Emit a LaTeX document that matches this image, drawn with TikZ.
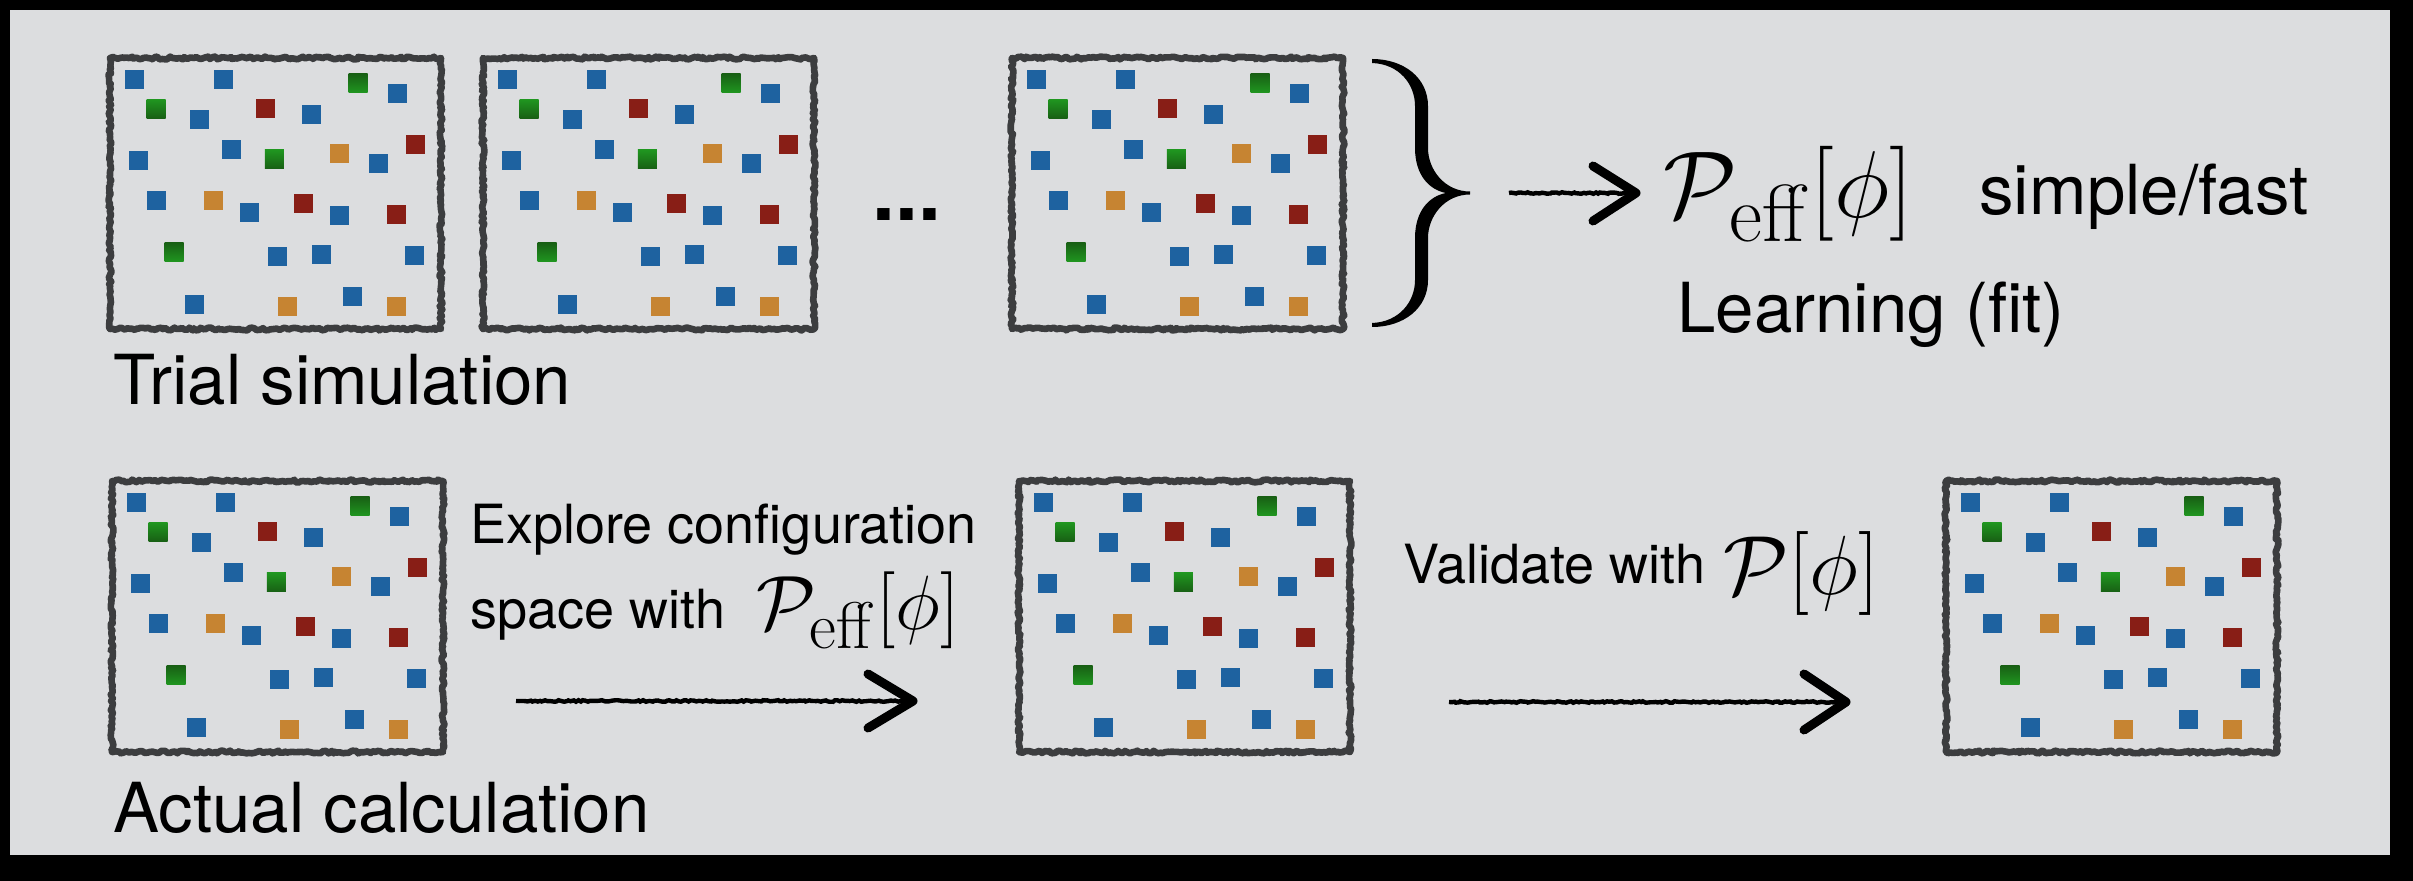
\RequirePackage{fix-cm}
\documentclass[tikz,border=0pt]{standalone}
\usepackage[no-math]{fontspec}
\setmainfont{TeX Gyre Heros}
\usetikzlibrary{decorations.pathmorphing}

% large subscripts for the formula labels
\DeclareMathSizes{47.5}{47.5}{40.5}{30}
\DeclareMathSizes{38.5}{38.5}{33}{25}
\DeclareMathSizes{42}{42}{36}{27}
\newcommand{\effsub}[1]{\raisebox{-#1}{$\scriptstyle\mathrm{eff}$}}

\definecolor{panelgray}{RGB}{220,221,223}
\definecolor{chalk}{RGB}{60,61,63}
\definecolor{cblue}{RGB}{30,98,160}
\definecolor{cred}{RGB}{136,30,22}
\definecolor{corange}{RGB}{198,132,50}
\definecolor{cgreendark}{RGB}{24,96,20}
\definecolor{cgreenlight}{RGB}{32,150,32}

\tikzset{
  framebox/.style={draw=chalk, line width=3.3pt, minimum width=165.5pt,
    minimum height=135.5pt, inner sep=0pt, line join=round, decorate,
    decoration={random steps, segment length=1.2pt, amplitude=0.7pt},
    preaction={draw=chalk, line width=2.6pt, decorate,
      decoration={random steps, segment length=2pt, amplitude=1pt}}},
  bigtext/.style={anchor=base west, inner sep=0pt, font=\fontsize{34.5}{41}\selectfont},
  midtext/.style={anchor=base west, inner sep=0pt, font=\fontsize{27}{32}\selectfont},
  mathtext/.style={anchor=base west, inner sep=0pt, font=\fontsize{#1}{#1}\selectfont},
  dotstext/.style={anchor=base, inner sep=0pt, font=\fontsize{41}{48}\selectfont\bfseries},
  shaft/.style={draw=black, line width=2.2pt, decorate,
    decoration={random steps, segment length=1.2pt, amplitude=0.4pt}},
  barb/.style={draw=black, line width=4.5pt, line cap=round, line join=round},
  config/.pic={
    \node[framebox] (-frame) at (169.5,139.5) {};
    \foreach \px/\py in {28.3/25.3, 117/25.3, 291/39.3, 93.3/65.3, 205/60.7,
        32/106.3, 125/95.3, 272/109.3, 50/146.7, 143/158.3, 233/161.3,
        171.3/202.3, 215/200.7, 308/201.3, 88/250.3, 246.3/242.3}
      \fill[cblue] (\px-9.5,\py-9.5) rectangle +(19,19);
    \foreach \px/\py in {159.3/54.7, 309/90.3, 197/149.3, 290/160.3}
      \fill[cred] (\px-9.5,\py-9.5) rectangle +(19,19);
    \foreach \px/\py in {233/99.3, 107/146.3, 181/252.3, 290/252.3}
      \fill[corange] (\px-9.5,\py-9.5) rectangle +(19,19);
    \foreach \px/\py in {252/29.3, 68/198.3}
      \shade[top color=cgreendark, bottom color=cgreenlight] (\px-9.5,\py-9.5) rectangle +(19,19);
    \foreach \px/\py in {50/54.7, 168.3/105.3}
      \shade[top color=cgreenlight, bottom color=cgreendark] (\px-9.5,\py-9.5) rectangle +(19,19);
  }
}

\begin{document}
\begin{tikzpicture}[x=0.5pt, y=-0.5pt]
  \pgfmathsetseed{7}
  \useasboundingbox (0,0) rectangle (2413,881);
  \fill[black] (0,0) rectangle (2413,881);
  \fill[panelgray] (10,10) rectangle (2390,855);

  % sampled configurations
  \pic (b1) at (106,54) {config};
  \pic (b2) at (479,54) {config};
  \pic (b3) at (1008,54) {config};
  \pic (b4) at (108,477) {config};
  \pic (b5) at (1015,477) {config};
  \pic (b6) at (1942,477) {config};

  \node[dotstext] (dots) at (907,221) {...};

  % curly brace gathering the trial runs
  \fill[black] (1372,59) .. controls (1404,59) and (1428,78) .. (1428,106)
    -- (1428,148) .. controls (1428,170) and (1445,191.5) .. (1470,191.5)
    -- (1470,194.5) .. controls (1445,194.5) and (1428,216) .. (1428,238)
    -- (1428,280) .. controls (1428,308) and (1404,327) .. (1372,327)
    -- (1372,323) .. controls (1399,322) and (1415,302) .. (1415,280)
    -- (1415,238) .. controls (1415,210) and (1430,196) .. (1446,193)
    .. controls (1430,190) and (1415,176) .. (1415,148)
    -- (1415,106) .. controls (1415,84) and (1399,64) .. (1372,63) -- cycle;

  % labels
  \node[bigtext] (trial) at (113,405) {Trial simulation};
  \node[bigtext] (actual) at (113,832) {Actual calculation};
  \node[mathtext=47.5] (peff) at (1663,218) {$\mathcal{P}_{\effsub{2.5pt}}[\phi]$};
  \node[bigtext] (simple) at (1979,215) {simple/fast};
  \node[bigtext] (learn) at (1677,333) {Learning (fit)};
  \node[midtext] (explore1) at (470,544) {Explore configuration};
  \node[midtext] (explore2) at (470,628) {space with};
  \node[mathtext=38.5] (peffb) at (756,629) {$\mathcal{P}_{\effsub{2pt}}[\phi]$};
  \node[midtext] (validate) at (1403,583) {Validate with};
  \node[mathtext=42] (pfull) at (1723,594) {$\mathcal{P}[\phi]$};

  % hand-drawn arrows
  \coordinate (t1) at (1509,193);
  \coordinate (h1) at (1636,193);
  \draw[shaft] (t1) -- (h1);
  \draw[barb] (h1) ++(-43,-27) -- (h1) -- ++(-43,28);

  \coordinate (t2) at (516,701);
  \coordinate (h2) at (913,701);
  \draw[shaft] (t2) -- (h2);
  \draw[barb] (h2) ++(-45,-27) -- (h2) -- ++(-45,27);

  \coordinate (t3) at (1449,702);
  \coordinate (h3) at (1846,702);
  \draw[shaft] (t3) -- (h3);
  \draw[barb] (h3) ++(-42,-28) -- (h3) -- ++(-42,28);
\end{tikzpicture}
\end{document}
